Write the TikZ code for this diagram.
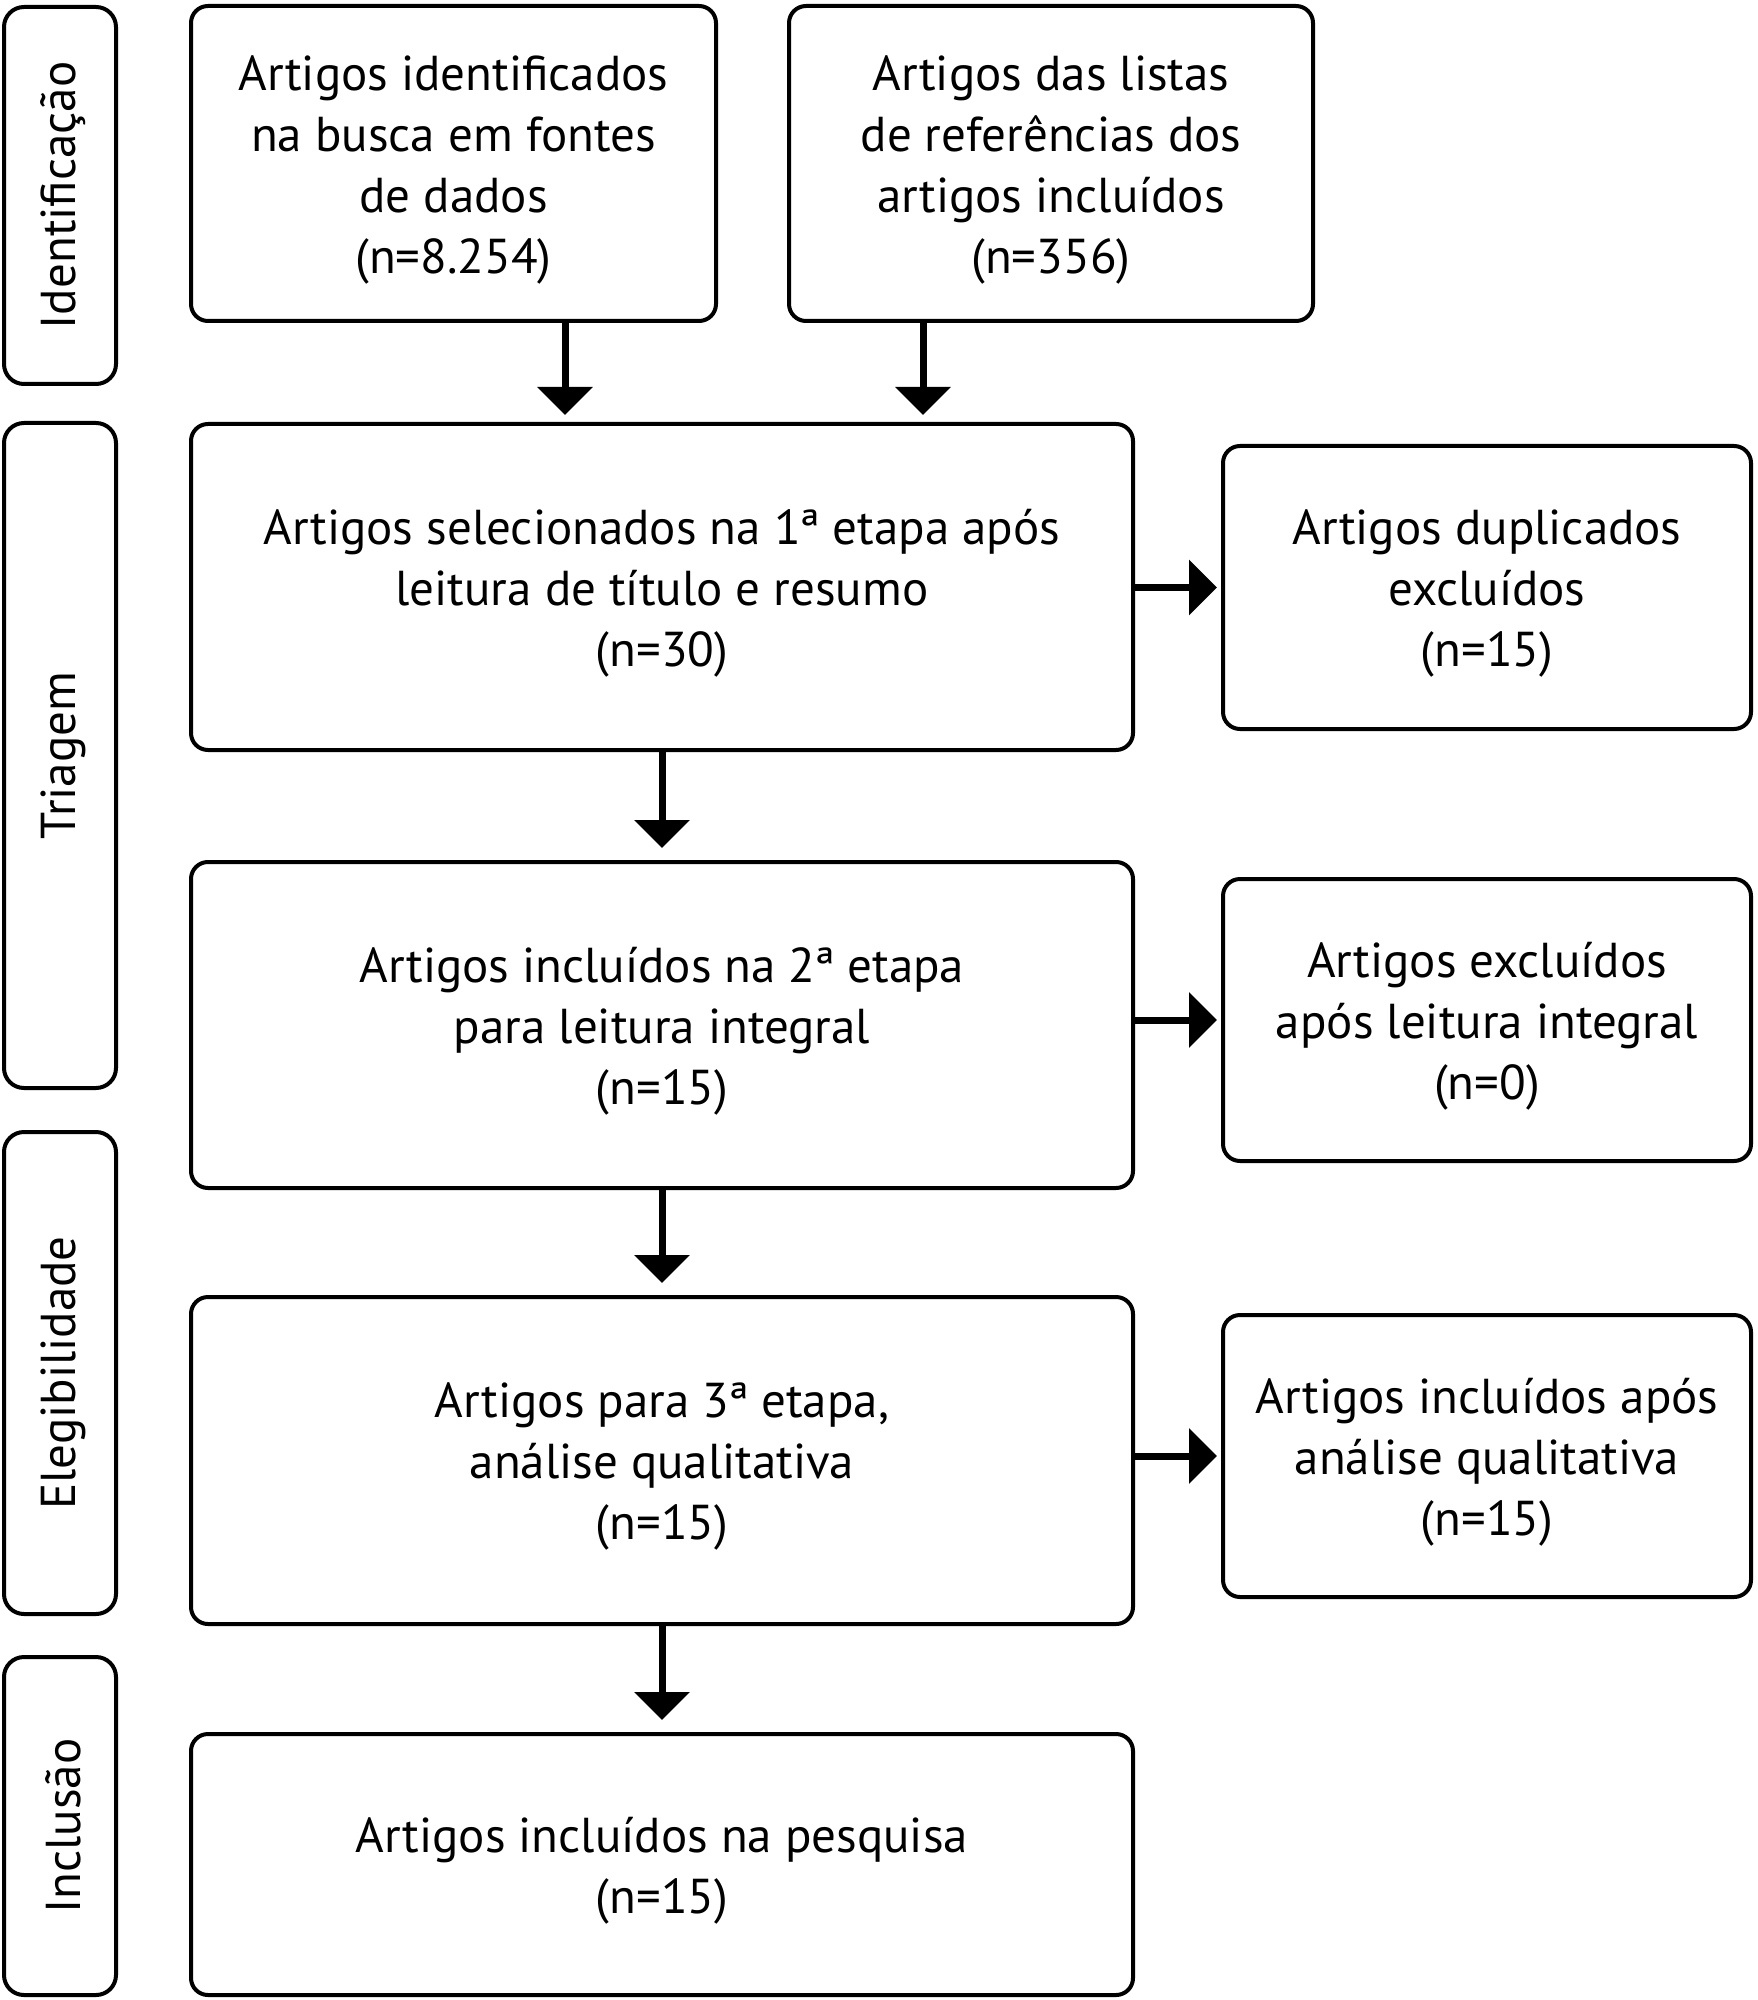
\documentclass[tikz,border=0pt]{standalone}
\usepackage{fontspec}
\setmainfont{PT Sans}
\usetikzlibrary{arrows.meta}
\begin{document}
\begin{tikzpicture}[x=0.5pt,y=-0.5pt,
  box/.style={draw, line width=2pt, rounded corners=8.5pt, inner sep=0pt},
  txt/.style={align=center, inner sep=0pt, font=\fontsize{24.5pt}{30.5pt}\selectfont},
  lab/.style={draw, line width=2pt, rounded corners=10pt, inner sep=0pt,
    minimum width=56pt},
  labtxt/.style={rotate=90, inner sep=0pt, font=\fontsize{24.5pt}{30.5pt}\selectfont},
  arr/.style={line width=3.5pt, -{Triangle[length=14pt,width=27pt]}}]
\useasboundingbox (0,0) rectangle (1757,2000);
% stage labels
\node[lab, minimum height=188.5pt] (lid) at (60,195.5) {};
\node[labtxt] (tid) at ([xshift=1.5pt]lid.center) {Identificação};
\node[lab, minimum height=332.5pt] (ltr) at (60,755.5) {};
\node[labtxt] (ttr) at ([xshift=1.5pt]ltr.center) {Triagem};
\node[lab, minimum height=241pt] (lel) at (60,1373) {};
\node[labtxt] (tel) at ([xshift=1.5pt]lel.center) {Elegibilidade};
\node[lab, minimum height=169pt] (lin) at (60,1826) {};
\node[labtxt] (tin) at ([xshift=1.5pt]lin.center) {Inclusão};
% boxes
\node[box, minimum width=262.5pt, minimum height=157.5pt] (A) at (453.5,163.5) {};
\node[txt] (At) at ([yshift=-3.2pt]A.center)
  {Artigos identificados\\na busca em fontes\\de dados\\(n=8.254)};
\node[box, minimum width=262pt, minimum height=157.5pt] (B) at (1051,163.5) {};
\node[txt] (Bt) at ([yshift=-3.2pt]B.center)
  {Artigos das listas\\de referências dos\\artigos incluídos\\(n=356)};
\node[box, minimum width=471pt, minimum height=163pt] (C) at (662,587) {};
\node[txt] (Ct) at ([yshift=-3.2pt]C.center)
  {Artigos selecionados na 1ª etapa após\\leitura de título e resumo\\(n=30)};
\node[box, minimum width=264pt, minimum height=141.5pt] (D) at (1487,587.5) {};
\node[txt] (Dt) at ([yshift=-3.2pt]D.center)
  {Artigos duplicados\\excluídos\\(n=15)};
\node[box, minimum width=471pt, minimum height=163pt] (E) at (662,1025) {};
\node[txt] (Et) at ([yshift=-3.2pt]E.center)
  {Artigos incluídos na 2ª etapa\\para leitura integral\\(n=15)};
\node[box, minimum width=264pt, minimum height=141pt] (F) at (1487,1020) {};
\node[txt] (Ft) at ([yshift=-3.2pt]F.center)
  {Artigos excluídos\\após leitura integral\\(n=0)};
\node[box, minimum width=471pt, minimum height=163.5pt] (G) at (662,1460.5) {};
\node[txt] (Gt) at ([yshift=-3.2pt]G.center)
  {Artigos para 3ª etapa,\\análise qualitativa\\(n=15)};
\node[box, minimum width=264pt, minimum height=141pt] (H) at (1487,1456) {};
\node[txt] (Ht) at ([yshift=-3.2pt]H.center)
  {Artigos incluídos após\\análise qualitativa\\(n=15)};
\node[box, minimum width=471pt, minimum height=130.5pt] (I) at (662,1864.5) {};
\node[txt] (It) at ([yshift=-3.2pt]I.center)
  {Artigos incluídos na pesquisa\\(n=15)};
% arrows
\coordinate (xa) at (565,0);
\coordinate (xb) at (923,0);
\draw[arr, shorten >=3.5pt] (A.south -| xa) -- (C.north -| xa);
\draw[arr, shorten >=3.5pt] (B.south -| xb) -- (C.north -| xb);
\draw[arr, shorten >=2pt] (C.east |- D.west) -- (D.west);
\draw[arr, shorten >=2pt] (E.east |- F.west) -- (F.west);
\draw[arr, shorten >=2pt] (G.east |- H.west) -- (H.west);
\draw[arr, shorten >=6pt] (C.south) -- (E.north);
\draw[arr, shorten >=6pt] (E.south) -- (G.north);
\draw[arr, shorten >=6pt] (G.south) -- (I.north);
\end{tikzpicture}
\end{document}
